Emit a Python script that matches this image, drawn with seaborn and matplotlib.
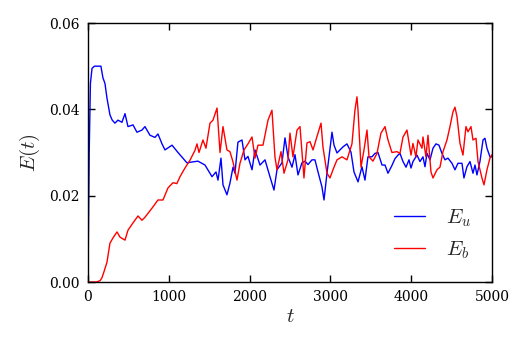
import matplotlib
matplotlib.use("Agg")
import matplotlib.pyplot as plt
import seaborn as sns
import pandas as pd

t_u = [0, 15, 30, 50, 80, 160, 185, 210, 235, 272, 300, 334, 371, 420, 458, 495, 557, 606, 668, 705,
       767, 829, 866, 916, 953, 1040, 1114, 1225, 1287, 1361, 1448, 1535, 1584, 1609, 1646, 1671, 1720,
       1757, 1795, 1819, 1856, 1906, 1943, 1980, 2030, 2067, 2129, 2191, 2252, 2302, 2339, 2401, 2438,
       2475, 2525, 2562, 2599, 2648, 2686, 2723, 2772, 2809, 2847, 2896, 2921, 2958, 2983, 3020, 3045,
       3082, 3119, 3156, 3205, 3255, 3292, 3342, 3391, 3428, 3465, 3515, 3552, 3589, 3639, 3676, 3713,
       3762, 3800, 3837, 3861, 3899, 3936, 3973, 3998, 4022, 4072, 4109, 4146, 4171, 4196, 4233, 4270,
       4307, 4344, 4381, 4418, 4455, 4505, 4542, 4579, 4629, 4653, 4690, 4728, 4765, 4790, 4814, 4851,
       4889, 4913, 4938, 4975, 5000]
e_u = [0.0, 0.030, 0.046, 0.0495, 0.050, 0.050, 0.0473, 0.046, 0.0426, 0.0387, 0.0375, 0.0368, 0.0375,
       0.037, 0.039, 0.036, 0.0364, 0.0347, 0.0352, 0.036, 0.034, 0.0335, 0.0343, 0.032, 0.0306, 0.0317,
       0.030, 0.0276, 0.0278, 0.028, 0.0271, 0.0244, 0.0255, 0.0236, 0.0287, 0.0225, 0.0202, 0.0229,
       0.0266, 0.0252, 0.0324, 0.0329, 0.0283, 0.0291, 0.026, 0.0306, 0.0271, 0.0283, 0.0244, 0.0213,
       0.026, 0.0276, 0.0334, 0.029, 0.0266, 0.0295, 0.0248, 0.0276, 0.028, 0.0272, 0.0283, 0.0283,
       0.0255, 0.022, 0.019, 0.0252, 0.029, 0.0347, 0.0317, 0.0299, 0.0306, 0.0313, 0.032, 0.0301,
       0.0255, 0.0232, 0.0267, 0.0236, 0.029, 0.029, 0.0298, 0.030, 0.0271, 0.0271, 0.0252, 0.027,
       0.0286, 0.0294, 0.0298, 0.0279, 0.0266, 0.0283, 0.0264, 0.0279, 0.0294, 0.0279, 0.029, 0.0267,
       0.0298, 0.0283, 0.031, 0.032, 0.0317, 0.0298, 0.0283, 0.0287, 0.0275, 0.026, 0.0275, 0.0275,
       0.0241, 0.0267, 0.0279, 0.0252, 0.0271, 0.0248, 0.0279, 0.0329, 0.0333, 0.031, 0.029, 0.029]

t_b = [0, 100, 150, 173, 200, 235, 272, 309, 359, 396, 458, 495, 557, 619, 668, 705, 792, 866, 928, 990,
       1052, 1100, 1139, 1200, 1262, 1324, 1349, 1374, 1423, 1460, 1510, 1547, 1597, 1634, 1671, 1720,
       1757, 1795, 1844, 1881, 1931, 1980, 2030, 2067, 2104, 2166, 2228, 2277, 2314, 2339, 2389, 2426,
       2475, 2500, 2537, 2587, 2624, 2673, 2710, 2748, 2785, 2834, 2884, 2908, 2958, 2995, 3032, 3082,
       3144, 3205, 3267, 3304, 3329, 3342, 3379, 3416, 3453, 3478, 3527, 3577, 3626, 3676, 3713, 3762,
       3824, 3861, 3899, 3948, 3998, 4022, 4059, 4084, 4134, 4146, 4183, 4208, 4245, 4270, 4319, 4356,
       4394, 4443, 4480, 4517, 4542, 4567, 4604, 4641, 4678, 4703, 4740, 4765, 4802, 4827, 4876, 4901,
       4938, 4975, 5000]
e_b = [0.0, 0.0, 0.0003, 0.001, 0.0025, 0.0046, 0.009, 0.0102, 0.0116, 0.0104, 0.0097, 0.012, 0.0137,
       0.0153, 0.0143, 0.015, 0.0171, 0.019, 0.019, 0.0218, 0.023, 0.0228, 0.0244, 0.0264, 0.0282,
       0.0305, 0.032, 0.030, 0.0329, 0.031, 0.0368, 0.0375, 0.0403, 0.030, 0.036, 0.0306, 0.0302,
       0.0278, 0.0236, 0.0275, 0.0306, 0.032, 0.0336, 0.0287, 0.0317, 0.0317, 0.0375, 0.0398, 0.029,
       0.026, 0.0302, 0.0252, 0.0283, 0.0345, 0.029, 0.0352, 0.036, 0.0241, 0.0322, 0.0325, 0.0306,
       0.0337, 0.0368, 0.0313, 0.0252, 0.0241, 0.026, 0.0283, 0.029, 0.0283, 0.032, 0.0398, 0.0429,
       0.0398, 0.0266, 0.0306, 0.0352, 0.029, 0.028, 0.0298, 0.0345, 0.036, 0.0329, 0.030, 0.0302,
       0.0298, 0.0336, 0.0352, 0.0294, 0.0321, 0.029, 0.0329, 0.031, 0.0336, 0.029, 0.034, 0.0255,
       0.0241, 0.026, 0.0266, 0.0302, 0.0329, 0.036, 0.0394, 0.0405, 0.0383, 0.0321, 0.0294, 0.036,
       0.0348, 0.036, 0.0329, 0.0333, 0.0279, 0.0241, 0.0225, 0.026, 0.0287, 0.0295]

labels = ["$E_u$", "$E_b$"]
colors = ["#0000ff", "#ff0000"]

df = pd.concat([
    pd.DataFrame({"t": t_u, "E": e_u, "series": labels[0]}),
    pd.DataFrame({"t": t_b, "E": e_b, "series": labels[1]}),
])

sns.set_style("ticks")
plt.rcParams["font.family"] = ["DejaVu Serif"]
plt.rcParams["mathtext.fontset"] = "cm"

fig = plt.figure(figsize=(5.25, 3.45), dpi=100)
ax = fig.add_axes([0.1676, 0.1826, 0.7695, 0.7507])
sns.lineplot(data=df, x="t", y="E", hue="series", palette=colors, linewidth=1.0,
             ax=ax, sort=False, estimator=None)

ax.set_xlim(0, 5000)
ax.set_ylim(0, 0.06)
ax.set_xticks([0, 1000, 2000, 3000, 4000, 5000])
ax.set_yticks([0.0, 0.02, 0.04, 0.06])
ax.set_yticklabels(["0.00", "0.02", "0.04", "0.06"])
ax.tick_params(direction="in", top=True, right=True, length=5, width=1, labelsize=10,
               colors="black", pad=6)
for s in ax.spines.values():
    s.set_color("black")
    s.set_linewidth(1)
ax.set_xlabel("$t$", fontsize=15, labelpad=2)
ax.set_ylabel("$E(t)$", fontsize=15, labelpad=5)

handles, _ = ax.get_legend_handles_labels()
ax.legend(handles=handles, labels=labels, loc="lower right", frameon=False, fontsize=15,
          handlelength=1.5, handletextpad=1.0, borderaxespad=0.6, labelspacing=0.5,
          bbox_to_anchor=(1.0, 0.0))

fig.savefig("out.png", dpi=100)
